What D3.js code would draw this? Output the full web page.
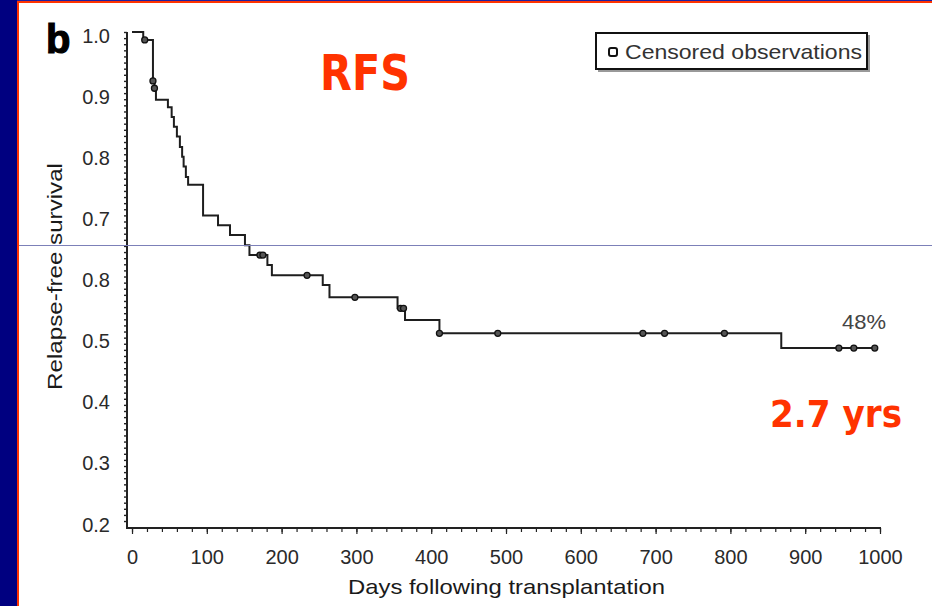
<!DOCTYPE html>
<html>
<head>
<meta charset="utf-8">
<script src="https://cdn.jsdelivr.net/npm/d3@7/dist/d3.min.js"></script>
<style>
  html, body { margin: 0; padding: 0; background: #ffffff; }
  svg { display: block; }
</style>
</head>
<body>
<svg id="chart" width="932" height="606"></svg>
<script>
// ---- data ----
// Kaplan-Meier step events: day and survival after the event
const eventDays     = [0, 15, 28, 30, 32, 48, 53, 56, 60, 64, 67, 69, 72, 75, 95, 115, 131, 151, 157, 181, 187, 255, 264, 355, 365, 411, 868];
const eventSurvival = [1.0, 0.987, 0.92, 0.908, 0.889, 0.877, 0.861, 0.845, 0.829, 0.812, 0.796, 0.78, 0.763, 0.75, 0.70, 0.684, 0.668, 0.651, 0.635, 0.619, 0.602, 0.586, 0.566, 0.548, 0.529, 0.507, 0.483];
const lastFollowUp  = 993;
// censored observations
const censorDays     = [17, 28, 30, 171, 175, 234, 298, 359, 363, 411, 489, 683, 712, 792, 945, 965, 993];
const censorSurvival = [0.987, 0.92, 0.908, 0.635, 0.635, 0.602, 0.566, 0.548, 0.548, 0.507, 0.507, 0.507, 0.507, 0.507, 0.483, 0.483, 0.483];
// axes
const yTickValues = [1.0, 0.9, 0.8, 0.7, 0.6, 0.5, 0.4, 0.3, 0.2];
const yTickLabels = ["1.0", "0.9", "0.8", "0.7", "0.8", "0.5", "0.4", "0.3", "0.2"];
const xTickValues = [0, 100, 200, 300, 400, 500, 600, 700, 800, 900, 1000];
const xTickLabels = ["0", "100", "200", "300", "400", "500", "600", "700", "800", "900", "1000"];
const xTitle = "Days following transplantation";
const yTitle = "Relapse-free survival";
const legendLabel = "Censored observations";
const endLabel = "48%";
const panelLabel = "b";
const titleText = "RFS";
const noteText = "2.7 yrs";

// ---- drawing ----
const svg = d3.select("#chart");
const font = "'Liberation Sans', Arial, Helvetica, sans-serif";

// slide frame
svg.append("rect").attr("x", 0).attr("y", 0).attr("width", 932).attr("height", 606).attr("fill", "#ffffff");
svg.append("rect").attr("x", 0).attr("y", 0).attr("width", 17).attr("height", 606).attr("fill", "#000080");
svg.append("rect").attr("x", 17).attr("y", 0).attr("width", 2).attr("height", 606).attr("fill", "#ff3300");
svg.append("rect").attr("x", 17).attr("y", 0).attr("width", 915).attr("height", 3).attr("fill", "#ff3300");
svg.append("rect").attr("x", 17).attr("y", 0).attr("width", 915).attr("height", 1).attr("fill", "#2020a0");

const x = d3.scaleLinear().domain([-6.7, 1000]).range([127, 880]);
const y = d3.scaleLinear().domain([0.1886, 1.0]).range([528, 32]);

// panel letter
svg.append("text").attr("x", 46).attr("y", 53)
  .attr("font-family", "'Liberation Sans', Arial, sans-serif").attr("font-weight", "bold")
  .attr("font-size", 40).attr("fill", "#000").attr("stroke", "#000").attr("stroke-width", 1.2)
  .text(panelLabel);

// y axis: dense minor ticks + line
const yMinor = d3.range(20, 101).map(v => v / 100);
const gYMinor = svg.append("g").attr("transform", "translate(127,0)")
  .call(d3.axisLeft(y).tickValues(yMinor).tickSize(3).tickFormat(""));
gYMinor.select(".domain").remove();
gYMinor.selectAll("line").attr("stroke", "#222").attr("stroke-width", 1.4);

const gY = svg.append("g").attr("transform", "translate(127,0)")
  .call(d3.axisLeft(y).tickValues(yTickValues).tickSize(0).tickPadding(17)
    .tickFormat((d, i) => yTickLabels[i]));
gY.select(".domain").remove();
gY.selectAll("text").attr("font-family", font).attr("font-size", 20).attr("fill", "#2a2a2a")
  .attr("dy", "0.5em");
svg.append("line").attr("x1", 127).attr("x2", 127).attr("y1", y(1.0)).attr("y2", 528)
  .attr("stroke", "#222").attr("stroke-width", 2);

// x axis
const xMinor = d3.range(0, 1001, 20);
const gXMinor = svg.append("g").attr("transform", "translate(0,528)")
  .call(d3.axisBottom(x).tickValues(xMinor).tickSize(4).tickFormat(""));
gXMinor.select(".domain").remove();
gXMinor.selectAll("line").attr("stroke", "#222").attr("stroke-width", 1.2);
const gX = svg.append("g").attr("transform", "translate(0,528)")
  .call(d3.axisBottom(x).tickValues(xTickValues).tickSize(6).tickPadding(16)
    .tickFormat((d, i) => xTickLabels[i]));
gX.select(".domain").remove();
gX.selectAll("line").attr("stroke", "#222").attr("stroke-width", 1.2);
gX.selectAll("text").attr("font-family", font).attr("font-size", 20).attr("fill", "#2a2a2a");
svg.append("line").attr("x1", 126).attr("x2", x(1000) + 1).attr("y1", 528).attr("y2", 528)
  .attr("stroke", "#222").attr("stroke-width", 2);

// axis titles
svg.append("text").attr("x", 348).attr("y", 594)
  .attr("font-family", font).attr("font-size", 21).attr("fill", "#1a1a1a")
  .attr("textLength", 317).attr("lengthAdjust", "spacingAndGlyphs").text(xTitle);
svg.append("text").attr("transform", "translate(62,390) rotate(-90)")
  .attr("font-family", font).attr("font-size", 20).attr("fill", "#1a1a1a")
  .attr("textLength", 227).attr("lengthAdjust", "spacingAndGlyphs").text(yTitle);

// KM curve
const pts = eventDays.map((d, i) => [d, eventSurvival[i]]);
pts.push([lastFollowUp, eventSurvival[eventSurvival.length - 1]]);
const line = d3.line().x(d => x(d[0])).y(d => y(d[1])).curve(d3.curveStepAfter);
svg.append("path").attr("d", line(pts)).attr("fill", "none")
  .attr("stroke", "#1e1e1e").attr("stroke-width", 2);

// censor marks
svg.append("g").selectAll("circle").data(censorDays).join("circle")
  .attr("cx", d => x(d)).attr("cy", (d, i) => y(censorSurvival[i])).attr("r", 3)
  .attr("fill", "#555").attr("stroke", "#111").attr("stroke-width", 1.3);

// end label
svg.append("text").attr("x", 842).attr("y", 329)
  .attr("font-family", font).attr("font-size", 21).attr("fill", "#444")
  .attr("textLength", 44).attr("lengthAdjust", "spacingAndGlyphs").text(endLabel);

// legend
svg.append("rect").attr("x", 598).attr("y", 35).attr("width", 272).attr("height", 37)
  .attr("fill", "#999");
svg.append("rect").attr("x", 596).attr("y", 33).attr("width", 271).attr("height", 36)
  .attr("fill", "#fff").attr("stroke", "#111").attr("stroke-width", 2);
svg.append("rect").attr("x", 609).attr("y", 48).attr("width", 8).attr("height", 8).attr("rx", 2)
  .attr("fill", "#fff").attr("stroke", "#111").attr("stroke-width", 2);
svg.append("text").attr("x", 625).attr("y", 59)
  .attr("font-family", font).attr("font-size", 21).attr("fill", "#333")
  .attr("textLength", 237).attr("lengthAdjust", "spacingAndGlyphs").text(legendLabel);

// horizontal slide line
svg.append("line").attr("x1", 19).attr("x2", 932).attr("y1", 245.5).attr("y2", 245.5)
  .attr("stroke", "#7c80b8").attr("stroke-width", 1);

// annotations
svg.append("text").attr("x", 320).attr("y", 90)
  .attr("font-family", "'Comic Sans MS', 'DejaVu Sans', sans-serif").attr("font-weight", "bold")
  .attr("font-size", 50).attr("fill", "#ff3300")
  .attr("textLength", 90).attr("lengthAdjust", "spacingAndGlyphs").text(titleText);
svg.append("text").attr("x", 770).attr("y", 427)
  .attr("font-family", "'Comic Sans MS', 'DejaVu Sans', sans-serif").attr("font-weight", "bold")
  .attr("font-size", 38).attr("fill", "#ff3300")
  .attr("textLength", 132).attr("lengthAdjust", "spacingAndGlyphs").text(noteText);
</script>
</body>
</html>
